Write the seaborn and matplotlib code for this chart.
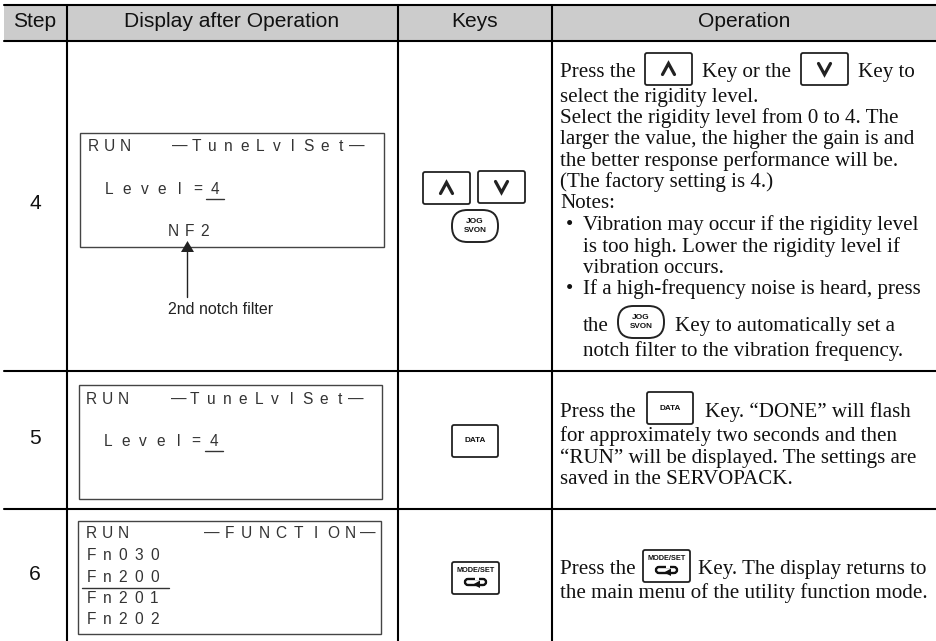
import seaborn as sns
import matplotlib.pyplot as plt
from matplotlib.patches import FancyBboxPatch, Rectangle, Polygon

# table text
headers = ["Step", "Display after Operation", "Keys", "Operation"]
steps = ["4", "5", "6"]

op_row4 = ["select the rigidity level.", "Select the rigidity level from 0 to 4. The",
           "larger the value, the higher the gain is and", "the better response performance will be.",
           "(The factory setting is 4.)", "Notes:"]
op_bullet1 = ["Vibration may occur if the rigidity level", "is too high. Lower the rigidity level if",
              "vibration occurs."]
op_bullet2 = "If a high-frequency noise is heard, press"
op_row4_end = "notch filter to the vibration frequency."
op_row5 = ["for approximately two seconds and then", "\u201cRUN\u201d will be displayed. The settings are",
           "saved in the SERVOPACK."]
fn_rows = ["Fn030", "Fn200", "Fn201", "Fn202"]

sns.set_theme(style="white")
plt.rcParams["font.family"] = ["Liberation Sans", "DejaVu Sans"]

fig = plt.figure(figsize=(9.37, 6.41), dpi=100)
ax = fig.add_axes([0, 0, 1, 1])
ax.set_xlim(0, 937)
ax.set_ylim(641, 0)
ax.axis("off")

INK = "#111111"
SERIF = "Liberation Serif"
OP_SIZE = 15.1


def op_text(x, y, s):
    ax.text(x, y, s, family=SERIF, fontsize=OP_SIZE, color=INK, ha="left", va="baseline")


def key_box(x0, y0, x1, y1, radius=2.0, lw=1.3):
    ax.add_patch(FancyBboxPatch((x0 + radius, y0 + radius), x1 - x0 - 2 * radius, y1 - y0 - 2 * radius,
                                boxstyle=f"round,pad={radius},rounding_size={radius}",
                                fc="white", ec="#222222", lw=lw, zorder=3))


def arrow_key(x0, y0, up=True):
    key_box(x0, y0, x0 + 47, y0 + 32)
    cx, cy = x0 + 23.5, y0 + 16
    d = -1 if up else 1
    ax.plot([cx - 6, cx, cx + 6], [cy - d * 5.5, cy + d * 5.5, cy - d * 5.5],
            color="#222222", lw=2.3, solid_joinstyle="miter", zorder=4)


def jog_key(x0, y0):
    key_box(x0, y0, x0 + 46, y0 + 32, radius=15.5, lw=1.4)
    ax.text(x0 + 23, y0 + 11.5, "JOG", fontsize=6.0, fontweight="bold", color=INK, ha="center", va="center", zorder=4)
    ax.text(x0 + 23, y0 + 21, "SVON", fontsize=5.9, fontweight="bold", color=INK, ha="center", va="center", zorder=4)


def data_key(x0, y0):
    key_box(x0, y0, x0 + 46, y0 + 32)
    ax.text(x0 + 23, y0 + 16, "DATA", fontsize=5.9, fontweight="bold", color=INK, ha="center", va="center", zorder=4)


def mode_key(x0, y0):
    key_box(x0, y0, x0 + 47, y0 + 32)
    ax.text(x0 + 23.5, y0 + 8, "MODE/SET", fontsize=5.3, fontweight="bold", color=INK, ha="center", va="center", zorder=4)
    ax.add_patch(FancyBboxPatch((x0 + 14, y0 + 18), 19, 4, boxstyle="round,pad=1,rounding_size=3",
                                fc="white", ec="#111111", lw=1.7, zorder=4))
    ax.add_patch(Rectangle((x0 + 23, y0 + 15), 4, 3, fc="white", ec="none", zorder=5))
    ax.add_patch(Polygon([[x0 + 21, y0 + 22.5], [x0 + 28, y0 + 18.5], [x0 + 28, y0 + 26]],
                         fc="#111111", ec="none", zorder=6))


def lcd(xs, y, chars, size=11.2):
    for x, c in zip(xs, chars):
        ax.text(x, y, c, fontsize=size, color="#333333", ha="center", va="baseline")


def lcd_box(x0, y0, x1, y1):
    ax.add_patch(Rectangle((x0, y0), x1 - x0, y1 - y0, fc="white", ec="#444444", lw=1.0))


def tune_display(dx, top, level_y, line_y):
    lcd([93 + dx, 109 + dx, 125 + dx], top, "RUN")
    xs = [180 + dx + 16.1 * k for k in range(12)]
    lcd(xs, top, "\u2014TuneLvlSet\u2014")
    lcd([109 + dx + 17.7 * k for k in range(7)], level_y, "Level=4")
    ax.plot([206 + dx, 224 + dx], [line_y, line_y], color="#333333", lw=1.0)


# header band and grid
ax.add_patch(Rectangle((4, 5), 933, 36, fc="#cccccc", ec="none", zorder=0))
for y in [5, 41, 371, 509]:
    ax.axhline(y, xmin=4 / 937, color="black", lw=1.5, zorder=1)
for x in [67, 398, 552]:
    ax.plot([x, x], [5, 641], color="black", lw=1.5, zorder=1)

for x, h in zip([35, 232, 475, 744], headers):
    ax.text(x, 27, h, fontsize=15.1, color=INK, ha="center", va="baseline")
for y, s in zip([209, 444, 580], steps):
    ax.text(35, y, s, fontsize=15.1, color=INK, ha="center", va="baseline")

# displays
lcd_box(80, 133, 384, 247)
tune_display(0, 151, 194, 199)
lcd([173, 189, 205], 236, "NF2")
ax.plot([187, 187], [250, 297], color="#222222", lw=1.0)
ax.add_patch(Polygon([[181, 252], [194, 252], [187.5, 241]], fc="#222222", ec="none", zorder=4))
ax.text(221, 314, "2nd notch filter", fontsize=11.5, color="#222222", ha="center", va="baseline")

lcd_box(79, 385, 382, 499)
tune_display(-1.3, 404, 446, 451)

lcd_box(78, 521, 381, 634)
lcd([91, 107, 123], 538, "RUN")
lcd([212 + 17.3 * k for k in range(10)], 538, "\u2014FUNCTION\u2014")
for y, row in zip([560, 582, 603, 624], fn_rows):
    lcd([91 + 15.9 * k for k in range(5)], y, row)
ax.plot([82, 169], [588, 588], color="#333333", lw=1.0)

# keys column
arrow_key(423, 172, up=True)
arrow_key(478, 171, up=False)
jog_key(452, 210)
data_key(452, 425)
mode_key(452, 562)

# operation column
op_text(560, 77, "Press the")
arrow_key(645, 53, up=True)
op_text(702, 77, "Key or the")
arrow_key(801, 53, up=False)
op_text(858, 77, "Key to")
for y, s in zip([102, 123, 144, 166, 187, 208], op_row4):
    op_text(560, y, s)
op_text(566, 230, "\u2022")
for y, s in zip([230, 252, 273], op_bullet1):
    op_text(583, y, s)
op_text(566, 294, "\u2022")
op_text(583, 294, op_bullet2)
op_text(583, 331, "the")
jog_key(618, 306)
op_text(675, 331, "Key to automatically set a")
op_text(583, 356, op_row4_end)

op_text(560, 417, "Press the")
data_key(647, 392)
op_text(705, 417, "Key. \u201cDONE\u201d will flash")
for y, s in zip([441, 463, 484], op_row5):
    op_text(560, y, s)

op_text(560, 574, "Press the")
mode_key(643, 550)
op_text(698, 574, "Key. The display returns to")
op_text(560, 598, "the main menu of the utility function mode.")

fig.savefig("out.png", dpi=100)
